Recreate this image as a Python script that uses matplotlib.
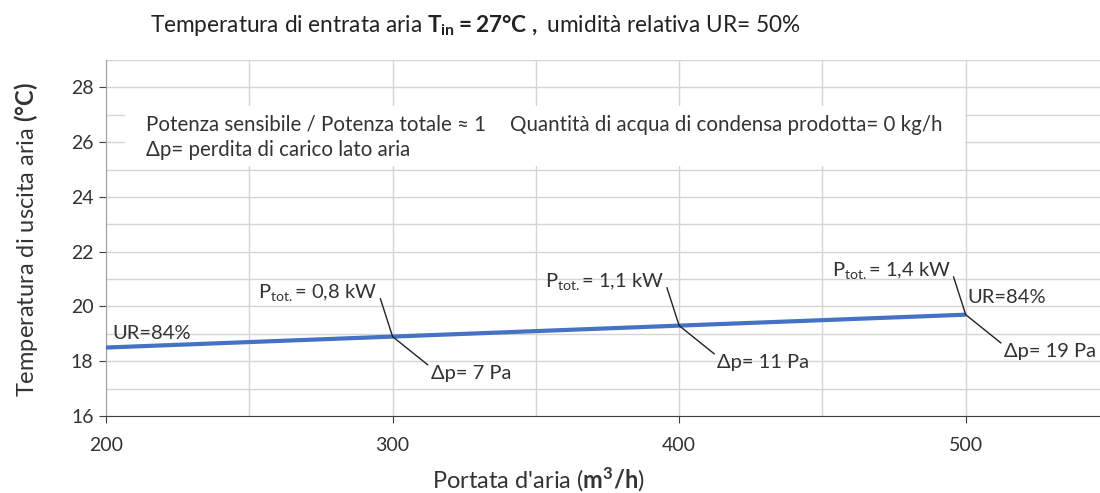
import matplotlib
matplotlib.use('Agg')
import matplotlib.pyplot as plt
from matplotlib.patches import Rectangle

plt.rcParams['font.family'] = ['Lato', 'DejaVu Sans']
plt.rcParams['mathtext.fontset'] = 'custom'
plt.rcParams['mathtext.rm'] = 'Lato'
plt.rcParams['mathtext.it'] = 'Lato'
plt.rcParams['mathtext.bf'] = 'Lato:bold'

# data
portata = [200, 300, 400, 500]          # m3/h
t_uscita = [18.5, 18.9, 19.3, 19.7]     # degC
p_tot = ['0,8', '1,1', '1,4']           # kW at 300/400/500
delta_p = [7, 11, 19]                   # Pa at 300/400/500
ur_labels = ['UR=84%', 'UR=84%']        # at 200 and 500

xticks = [200, 300, 400, 500]
yticks = [16, 18, 20, 22, 24, 26, 28]

txt = '#333333'

fig = plt.figure(figsize=(11, 4.93), dpi=100)
ax = fig.add_axes([106/1100, 1-416/493, (1109-106)/1100, (416-60)/493])
ax.set_xlim(200, 550)
ax.set_ylim(16, 29)

ax.set_xticks(xticks)
ax.set_xticks([250, 350, 450, 550], minor=True)
ax.set_yticks(yticks)
ax.set_yticks(range(17, 30, 2), minor=True)
ax.grid(True, which='both', color='#d4d4d4', lw=1)
ax.set_axisbelow(True)
ax.tick_params(which='minor', length=0)
ax.tick_params(which='major', length=5, color='#404040', labelsize=14, labelcolor=txt, pad=4)
ax.tick_params(axis='x', pad=10)
for s in ['top', 'right']:
    ax.spines[s].set_visible(False)
ax.spines['left'].set_color('#a0a0a0')
ax.spines['bottom'].set_color('#404040')

# notes box
ax.add_patch(Rectangle((206.6, 25.12), 293, 2.2, facecolor='white', edgecolor='none', zorder=1.5))
ax.text(213.9, 26.42, 'Potenza sensibile / Potenza totale ≈ 1', fontsize=14.8, color=txt, va='baseline', zorder=3)
ax.text(341, 26.42, 'Quantità di acqua di condensa prodotta= 0 kg/h', fontsize=14.8, color=txt, va='baseline', zorder=3)
ax.text(213.9, 25.5, 'Δp= perdita di carico lato aria', fontsize=14.8, color=txt, va='baseline', zorder=3)

ax.plot(portata, t_uscita, color='#4472C4', lw=3, zorder=4, solid_capstyle='butt')

for i in range(3):
    x, y = portata[i+1], t_uscita[i+1]
    ax.annotate(r'P$_{\mathrm{tot.}}$= ' + p_tot[i] + ' kW', xy=(x, y), xytext=(-15, 39),
                textcoords='offset pixels', ha='right', va='baseline', fontsize=14.5, color=txt,
                arrowprops=dict(arrowstyle='-', color='#222222', lw=1, shrinkA=0, shrinkB=0, relpos=(1, 0.6)),
                zorder=5)
    ax.annotate('Δp= %d Pa' % delta_p[i], xy=(x, y), xytext=(38, -42),
                textcoords='offset pixels', ha='left', va='baseline', fontsize=14.5, color=txt,
                arrowprops=dict(arrowstyle='-', color='#222222', lw=1, shrinkA=0, shrinkB=0, relpos=(0, 0.85)),
                zorder=5)

ax.annotate(ur_labels[0], xy=(portata[0], t_uscita[0]), xytext=(6, 9), textcoords='offset pixels',
            ha='left', va='baseline', fontsize=14.5, color=txt, zorder=5)
ax.annotate(ur_labels[1], xy=(portata[-1], t_uscita[-1]), xytext=(2, 12), textcoords='offset pixels',
            ha='left', va='baseline', fontsize=14.5, color=txt, zorder=5)

fig.text(475/1100, 1-25/493,
         r'Temperatura di entrata aria $\mathbf{T_{in}}$$\mathbf{= 27°C\ ,}$ umidità relativa UR= 50%',
         ha='center', va='center', fontsize=16.3, color='#222222')
fig.text(538/1100, 1-480/493, r"Portata d'aria ($\mathbf{m^3/h}$)", ha='center', va='center',
         fontsize=17, color=txt)
fig.text(26/1100, 1-240/493, 'Temperatura di uscita aria ' + r'$\mathbf{(°C)}$', ha='center', va='center',
         rotation=90, fontsize=17, color=txt)

fig.savefig('out.png', dpi=100)
